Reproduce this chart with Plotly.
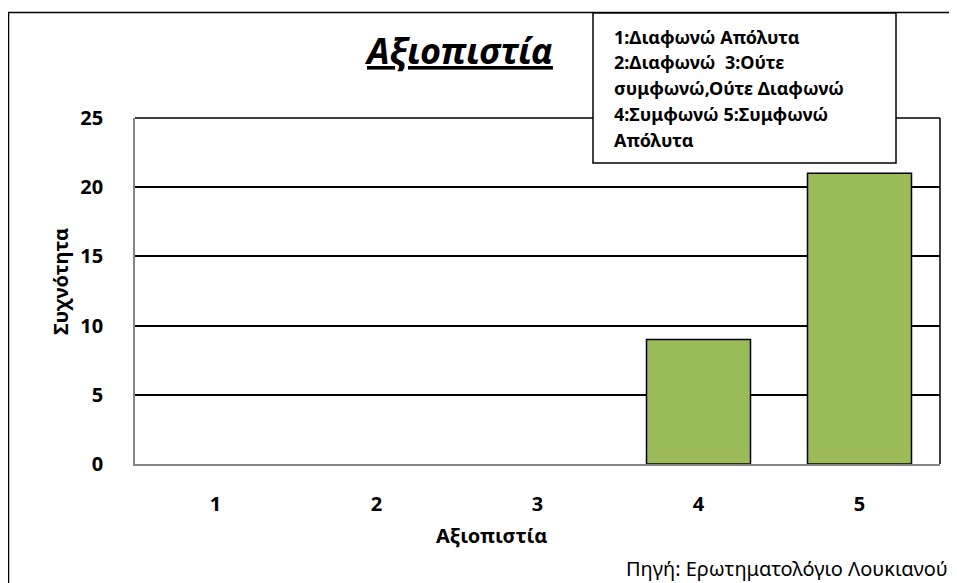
import plotly.graph_objects as go

categories = [1, 2, 3, 4, 5]
frequencies = [0, 0, 0, 9, 21]
y_ticks = [0, 5, 10, 15, 20, 25]

title_text = "Αξιοπιστία"
x_title = "Αξιοπιστία"
y_title = "Συχνότητα"
legend_lines = [
    "1:Διαφωνώ Απόλυτα",
    "2:Διαφωνώ  3:Ούτε",
    "συμφωνώ,Ούτε Διαφωνώ",
    "4:Συμφωνώ 5:Συμφωνώ",
    "Απόλυτα",
]
source_text = "Πηγή: Ερωτηματολόγιο Λουκιανού"

# page has an 8px body margin; figure coordinates = page coordinates - 8
OFF = 8
W, H = 957 - OFF, 583 - OFF
L, T = 135 - OFF, 118 - OFF
R = W - (940 - OFF)
B = H - (464 - OFF)
pw, ph = W - L - R, H - T - B

def px_x(x):
    return (x - OFF - L) / pw

def px_y(y):
    return (H - B - (y - OFF)) / ph

FONT = "Noto Sans"

fig = go.Figure()
fig.add_trace(go.Bar(
    x=categories,
    y=frequencies,
    width=0.646,
    marker=dict(color="#9BBB59",
                line=dict(color="black", width=[1.5 if v > 0 else 0 for v in frequencies])),
    showlegend=False,
))

shapes = [
    dict(type="rect", xref="paper", yref="paper",
         x0=px_x(8.5), x1=px_x(1100), y0=px_y(12.5), y1=px_y(700),
         line=dict(color="black", width=1.5), layer="below"),
    # top gridline (value 25) and right plot border
    dict(type="line", xref="paper", yref="paper", x0=0, x1=1, y0=1, y1=1,
         line=dict(color="black", width=1.5), layer="below"),
    dict(type="line", xref="paper", yref="paper", x0=1, x1=1, y0=0, y1=1,
         line=dict(color="black", width=1.5)),
    dict(type="rect", xref="paper", yref="paper",
         x0=px_x(593), x1=px_x(896), y0=px_y(13), y1=px_y(163),
         line=dict(color="black", width=1.5), fillcolor="white", layer="above"),
]

annotations = [
    dict(text="<b><i><u>" + title_text + "</u></i></b>", x=px_x(458), y=px_y(50),
         xref="paper", yref="paper", showarrow=False,
         font=dict(family=FONT, size=36, color="black"), xanchor="center", yanchor="middle"),
    dict(text="<b>" + x_title + "</b>", x=px_x(491), y=px_y(535),
         xref="paper", yref="paper", showarrow=False,
         font=dict(family=FONT, size=20, color="black"), xanchor="center", yanchor="middle"),
    dict(text="<b>" + y_title + "</b>", x=px_x(60), y=px_y(282), textangle=-90,
         xref="paper", yref="paper", showarrow=False,
         font=dict(family=FONT, size=20, color="black"), xanchor="center", yanchor="middle"),
    dict(text=source_text, x=px_x(950), y=px_y(568),
         xref="paper", yref="paper", showarrow=False,
         font=dict(family=FONT, size=20, color="black"), xanchor="right", yanchor="middle"),
]
line_ys = [37, 62, 88, 114, 140]
for txt, yy in zip(legend_lines, line_ys):
    annotations.append(dict(text="<b>" + txt + "</b>", x=px_x(612), y=px_y(yy),
                            xref="paper", yref="paper", showarrow=False,
                            font=dict(family=FONT, size=18, color="black"),
                            xanchor="left", yanchor="middle"))

fig.update_layout(
    width=W, height=H,
    margin=dict(l=L, r=R, t=T, b=B),
    paper_bgcolor="white", plot_bgcolor="white",
    shapes=shapes, annotations=annotations,
    font=dict(family=FONT, color="black"),
    xaxis=dict(range=[0.5, 5.5], tickvals=categories, ticktext=[str(c) for c in categories],
               showgrid=False, showline=True, linecolor="#868686", linewidth=1.5,
               ticks="", tickfont=dict(family=FONT, size=20, weight="bold", color="black"),
               ticklabelstandoff=21, zeroline=False),
    yaxis=dict(range=[0, 25], tickvals=y_ticks, showgrid=True, gridcolor="black", gridwidth=1.5,
               showline=True, linecolor="#868686", linewidth=1.5, ticks="",
               tickfont=dict(family=FONT, size=20, weight="bold", color="black"),
               ticklabelstandoff=26, zeroline=False),
)

fig.write_html("out.html")
